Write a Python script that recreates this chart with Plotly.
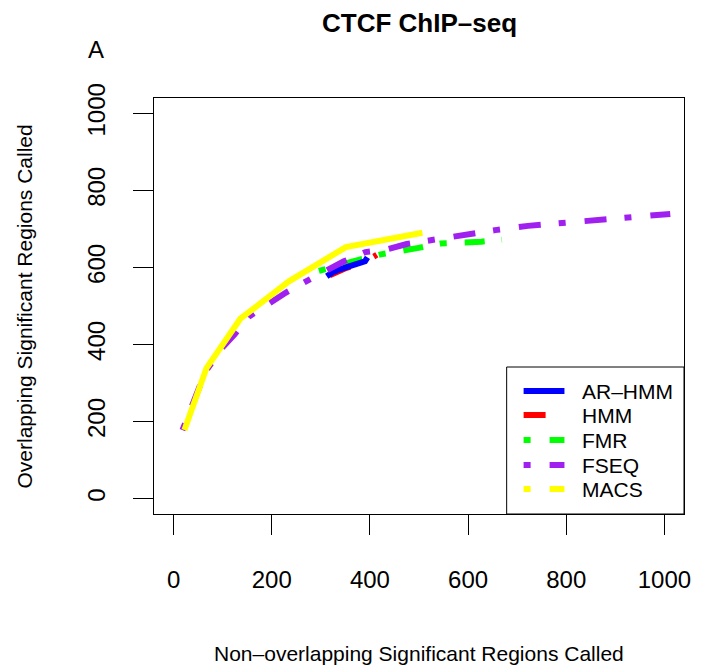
import plotly.graph_objects as go

# ---- data ----
series_names = ["AR\u2013HMM", "HMM", "FMR", "FSEQ", "MACS"]
series_colors = ["#0000ff", "#ff0000", "#00ff00", "#a020f0", "#ffff00"]

arhmm_x = [312, 325, 340, 352, 365, 378, 390, 395]
arhmm_y = [577, 588, 596, 600, 605, 610, 616, 626]

hmm_x = [318, 333, 350, 370, 390, 414]
hmm_y = [580, 590, 598, 606, 615, 633]

fmr_x = [296, 351, 377, 422, 462, 499, 544, 590, 627, 669]
fmr_y = [591, 612, 620, 634, 641, 651, 662, 664, 667, 672]

fseq_x = [18, 65, 99, 124, 154, 195, 229, 270, 310, 347, 391, 434, 475, 523, 586, 655, 722, 789, 858, 921, 1012]
fseq_y = [178, 330, 392, 426, 473, 509, 535, 564, 590, 616, 640, 647, 661, 671, 684, 697, 708, 715, 723, 731, 739]

macs_x = [22, 67, 136, 235, 351, 507]
macs_y = [178, 339, 467, 564, 653, 690]

x_ticks = [0, 200, 400, 600, 800, 1000]
y_ticks = [0, 200, 400, 600, 800, 1000]

title_text = "CTCF ChIP\u2013seq"
panel_label = "A"
x_label = "Non\u2013overlapping Significant Regions Called"
y_label = "Overlapping Significant Regions Called"

# ---- styles ----
FONT = "Liberation Sans, Arial, Helvetica, sans-serif"
LW = 6
DOTDASH = "7px,19px,22px,18px"
DOTDASH_FMR = "7px,18px,20px,17px"
DASHED = "22px,26px"

W, H = 703, 669
L, R, T, B = 154, 686, 98, 514


def px(x):
    return (x - L) / (R - L)


def py(y):
    return (B - y) / (B - T)


fig = go.Figure()

# draw order: HMM, FMR, AR-HMM, FSEQ, MACS
fig.add_trace(go.Scatter(x=hmm_x, y=hmm_y, mode="lines", name=series_names[1],
                         line=dict(color=series_colors[1], width=LW, dash=DASHED), showlegend=False))
fig.add_trace(go.Scatter(x=fmr_x, y=fmr_y, mode="lines", name=series_names[2],
                         line=dict(color=series_colors[2], width=LW, dash=DOTDASH_FMR), showlegend=False))
fig.add_trace(go.Scatter(x=arhmm_x, y=arhmm_y, mode="lines", name=series_names[0],
                         line=dict(color=series_colors[0], width=LW), showlegend=False))
fig.add_trace(go.Scatter(x=fseq_x, y=fseq_y, mode="lines", name=series_names[3],
                         line=dict(color=series_colors[3], width=LW, dash=DOTDASH), showlegend=False))
fig.add_trace(go.Scatter(x=macs_x, y=macs_y, mode="lines", name=series_names[4],
                         line=dict(color=series_colors[4], width=LW), showlegend=False))

axis_common = dict(
    showgrid=False, zeroline=False, showline=True, mirror=True,
    linecolor="black", linewidth=1,
    ticks="outside", ticklen=20, tickwidth=1, tickcolor="black",
    tickfont=dict(family=FONT, size=24, color="black"),
)

fig.update_xaxes(range=[-40, 1040], tickvals=x_ticks, ticktext=[str(v) for v in x_ticks],
                 ticklabelstandoff=24, **axis_common)
fig.update_yaxes(range=[-40, 1040], tickvals=y_ticks, ticktext=[str(v) for v in y_ticks],
                 tickangle=-90, ticklabelstandoff=18, **axis_common)

annotations = [
    dict(text="<b>" + title_text + "</b>", x=px(420), y=py(23), xref="paper", yref="paper",
         showarrow=False, xanchor="center", yanchor="middle",
         font=dict(family=FONT, size=26, color="black")),
    dict(text=panel_label, x=px(96), y=py(50), xref="paper", yref="paper",
         showarrow=False, xanchor="center", yanchor="middle",
         font=dict(family=FONT, size=24, color="black")),
    dict(text=x_label, x=px(420), y=py(653), xref="paper", yref="paper",
         showarrow=False, xanchor="center", yanchor="middle",
         font=dict(family=FONT, size=21, color="black")),
    dict(text=y_label, x=px(24), y=py(306), xref="paper", yref="paper",
         showarrow=False, xanchor="center", yanchor="middle", textangle=-90,
         font=dict(family=FONT, size=21, color="black")),
]

# ---- manual legend (bottom-right, like R's legend) ----
shapes = [dict(type="rect", xref="paper", yref="paper",
               x0=px(508), x1=px(R), y0=py(367), y1=py(B),
               line=dict(color="black", width=1), fillcolor="white", layer="above")]
legend_dash = ["solid", DASHED, DOTDASH, DOTDASH, DOTDASH]
row_y = [391, 415, 440, 465, 489]
for name, col, dsh, ry in zip(series_names, series_colors, legend_dash, row_y):
    shapes.append(dict(type="line", xref="paper", yref="paper",
                       x0=px(525), x1=px(566), y0=py(ry), y1=py(ry),
                       line=dict(color=col, width=LW, dash=dsh), layer="above"))
    annotations.append(dict(text=name, x=px(582), y=py(ry), xref="paper", yref="paper",
                            showarrow=False, xanchor="left", yanchor="middle",
                            font=dict(family=FONT, size=21, color="black")))

fig.update_layout(
    width=W, height=H,
    margin=dict(l=L, r=W - R, t=T, b=H - B, pad=0),
    paper_bgcolor="white", plot_bgcolor="white",
    showlegend=False,
    annotations=annotations, shapes=shapes,
)

fig.write_html("out.html")
